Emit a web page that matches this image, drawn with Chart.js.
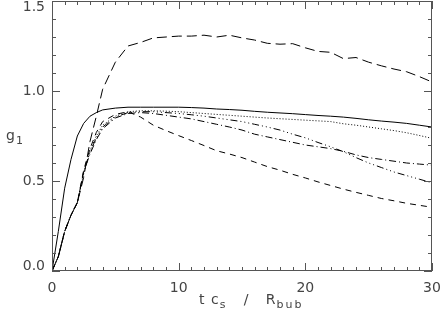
<!DOCTYPE html>
<html>
<head>
<meta charset="utf-8">
<script src="https://cdn.jsdelivr.net/npm/chart.js@4"></script>
<style>
  body { margin: 0; background: #fff; }
  #wrap { position: relative; width: 441px; height: 318px; font-family: "DejaVu Sans", sans-serif; color: #444; }
  #grafico { position: absolute; left: 0; top: 0; }
  .titulo { position: absolute; font-size: 14px; white-space: pre; letter-spacing: 1px; }
  .titulo sub { font-size: 11px; vertical-align: -4px; letter-spacing: 2px; }
</style>
</head>
<body>
<div id="wrap">
  <canvas id="grafico" width="441" height="318"></canvas>
  <div class="titulo" style="left:6px; top:127px;">g<sub>1</sub></div>
  <div class="titulo" style="left:199px; top:291px;">t c<sub>s</sub>   /   R<sub>bub</sub></div>
</div>
<script>
// tiempos (t c_s / R_bub)
const tiempos = [0, 0.5, 1, 1.5, 2, 2.5, 3, 3.5, 4, 5, 6, 7, 8, 9, 10, 11, 12, 13, 14, 15,
  16, 17, 18, 19, 20, 21, 22, 23, 24, 25, 26, 27, 28, 29, 30];

// g1 para cada curva
const gSolida = [0, 0.22, 0.46, 0.62, 0.75, 0.82, 0.86, 0.88, 0.895, 0.905, 0.91, 0.91, 0.91, 0.91, 0.91, 0.908, 0.905, 0.90, 0.897, 0.893,
  0.887, 0.882, 0.878, 0.874, 0.869, 0.864, 0.86, 0.855, 0.848, 0.84, 0.833, 0.827, 0.82, 0.81, 0.80];
const gRayaLarga = [0, 0.08, 0.22, 0.31, 0.38, 0.52, 0.72, 0.86, 1.01, 1.16, 1.25, 1.27, 1.295, 1.30, 1.305, 1.305, 1.31, 1.30, 1.31, 1.295,
  1.283, 1.265, 1.26, 1.263, 1.24, 1.22, 1.215, 1.18, 1.186, 1.16, 1.14, 1.122, 1.107, 1.08, 1.05];
const gPuntos = [0, 0.08, 0.22, 0.31, 0.38, 0.54, 0.67, 0.75, 0.81, 0.86, 0.885, 0.89, 0.89, 0.888, 0.885, 0.88, 0.875, 0.87, 0.865, 0.86,
  0.855, 0.85, 0.846, 0.842, 0.838, 0.834, 0.83, 0.818, 0.81, 0.80, 0.79, 0.78, 0.768, 0.753, 0.737];
const gRayaPuntos3 = [0, 0.08, 0.22, 0.31, 0.38, 0.55, 0.66, 0.74, 0.80, 0.855, 0.88, 0.885, 0.885, 0.88, 0.875, 0.868, 0.86, 0.85, 0.84, 0.83,
  0.815, 0.80, 0.783, 0.76, 0.74, 0.714, 0.69, 0.663, 0.63, 0.60, 0.575, 0.55, 0.53, 0.51, 0.49];
const gRayaPunto = [0, 0.08, 0.22, 0.31, 0.38, 0.55, 0.65, 0.73, 0.79, 0.85, 0.875, 0.88, 0.875, 0.865, 0.855, 0.845, 0.83, 0.815, 0.80, 0.783,
  0.76, 0.745, 0.73, 0.715, 0.70, 0.69, 0.68, 0.665, 0.645, 0.63, 0.62, 0.61, 0.60, 0.594, 0.588];
const gRayaCorta = [0, 0.08, 0.22, 0.31, 0.38, 0.56, 0.68, 0.77, 0.83, 0.87, 0.885, 0.855, 0.81, 0.78, 0.752, 0.725, 0.697, 0.668, 0.65, 0.63,
  0.605, 0.58, 0.56, 0.537, 0.517, 0.495, 0.475, 0.455, 0.437, 0.42, 0.403, 0.39, 0.376, 0.365, 0.354];

// marcas de los ejes
const etiquetasY = [0, 0.5, 1.0, 1.5];
const etiquetasX = [0, 10, 20, 30];

const curvas = [
  { datos: gSolida, dash: [] },
  { datos: gRayaLarga, dash: [10, 5] },
  { datos: gPuntos, dash: [1, 2] },
  { datos: gRayaPuntos3, dash: [7, 3, 1, 3, 1, 3, 1, 3] },
  { datos: gRayaPunto, dash: [7, 3, 1, 3] },
  { datos: gRayaCorta, dash: [6, 5] }
];

const colorEje = '#555';
const familia = '"DejaVu Sans", sans-serif';

// marco y marcas hacia adentro, como en IDL
const marcoPlugin = {
  id: 'marco',
  afterDraw(chart) {
    const ctx = chart.ctx;
    const a = chart.chartArea;
    const sx = chart.scales.x;
    const sy = chart.scales.y;
    ctx.save();
    ctx.strokeStyle = colorEje;
    ctx.lineWidth = 1;
    ctx.strokeRect(Math.round(a.left) + 0.5, Math.round(a.top) + 0.5,
      Math.round(a.right - a.left) - 1, Math.round(a.bottom - a.top) - 1);
    ctx.beginPath();
    sx.ticks.forEach(t => {
      const px = Math.round(sx.getPixelForValue(t.value)) + 0.5;
      const largo = etiquetasX.includes(Math.round(t.value)) ? 8 : 4;
      ctx.moveTo(px, a.bottom); ctx.lineTo(px, a.bottom - largo);
      ctx.moveTo(px, a.top); ctx.lineTo(px, a.top + largo);
    });
    sy.ticks.forEach(t => {
      const py = Math.round(sy.getPixelForValue(t.value)) + 0.5;
      const largo = Math.round(t.value * 10) % 5 === 0 ? 8 : 4;
      ctx.moveTo(a.left, py); ctx.lineTo(a.left + largo, py);
      ctx.moveTo(a.right, py); ctx.lineTo(a.right - largo, py);
    });
    ctx.stroke();
    ctx.restore();
  }
};

new Chart(document.getElementById('grafico'), {
  type: 'line',
  data: {
    datasets: curvas.map(c => ({
      data: tiempos.map((t, i) => ({ x: t, y: c.datos[i] })),
      borderColor: '#000',
      borderWidth: 1,
      borderDash: c.dash,
      pointRadius: 0,
      tension: 0,
      fill: false
    }))
  },
  options: {
    responsive: false,
    animation: false,
    layout: { padding: { top: 1, right: 9, left: 0, bottom: 0 } },
    plugins: { legend: { display: false }, tooltip: { enabled: false } },
    scales: {
      x: {
        type: 'linear',
        min: 0,
        max: 30,
        grid: { display: false, drawTicks: false },
        border: { display: false },
        ticks: {
          stepSize: 1,
          autoSkip: false,
          maxRotation: 0,
          padding: 9,
          color: '#444',
          font: { family: familia, size: 14 },
          callback: v => etiquetasX.includes(v) ? String(v) : ''
        },
        afterFit: s => { s.height = 47; s.paddingLeft = 0; s.paddingRight = 0; }
      },
      y: {
        min: 0,
        max: 1.5,
        grid: { display: false, drawTicks: false },
        border: { display: false },
        ticks: {
          stepSize: 0.1,
          autoSkip: false,
          padding: 7,
          color: '#444',
          font: c => {
            const v = c.tick ? c.tick.value : 0;
            const borde = Math.abs(v - 1.5) < 1e-6 ? '12px' : (Math.abs(v) < 1e-6 ? '10px' : 1.2);
            return { family: familia, size: 14, lineHeight: borde };
          },
          callback: v => {
            const e = etiquetasY.find(l => Math.abs(l - v) < 1e-6);
            if (e === undefined) return '';
            // la primera y la ultima etiqueta quedan dentro del marco
            if (e === 1.5) return ['', e.toFixed(1)];
            if (e === 0) return [e.toFixed(1), ''];
            return e.toFixed(1);
          }
        },
        afterFit: s => { s.width = 52; s.paddingTop = 0; s.paddingBottom = 0; }
      }
    }
  },
  plugins: [marcoPlugin]
});
</script>
</body>
</html>
